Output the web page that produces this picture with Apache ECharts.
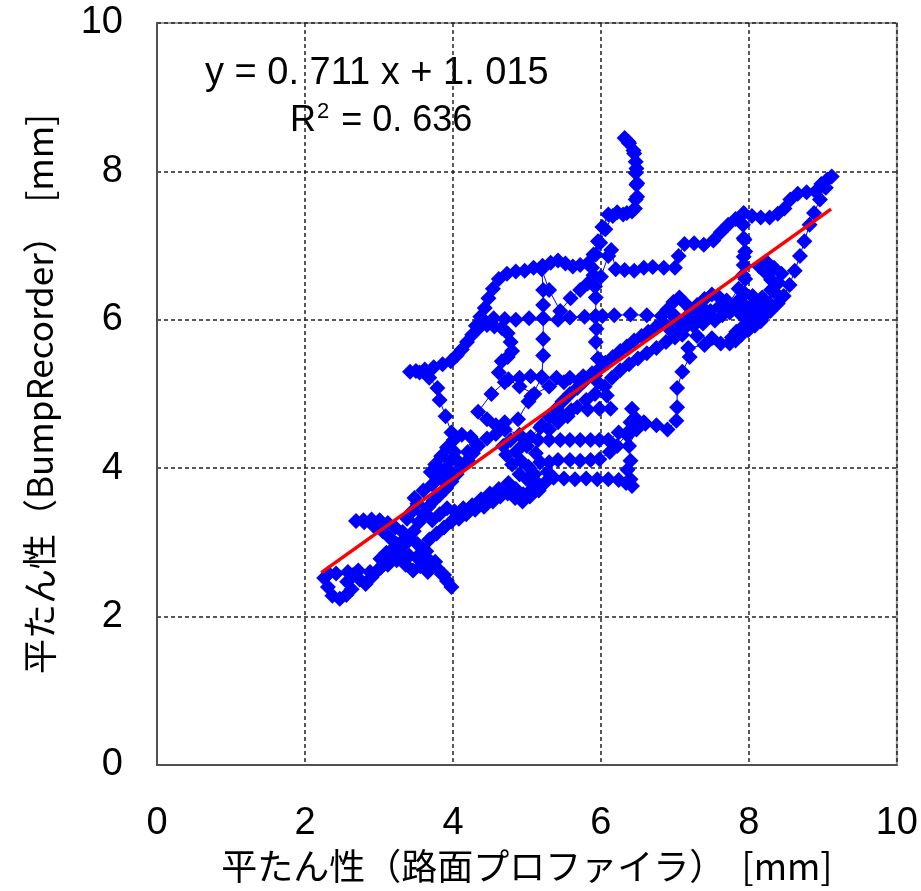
<!DOCTYPE html>
<html><head><meta charset="utf-8">
<script src="https://cdn.jsdelivr.net/npm/echarts@6/dist/echarts.min.js"></script>
<style>html,body{margin:0;padding:0;background:#fff}#c{width:921px;height:891px}</style>
</head><body><div id="c"></div>
<script>
// Trajectory of (profiler flatness, BumpRecorder flatness) in mm, in drawing order
const passLowerBlob = [[5.24,3.80],[5.16,3.70],[5.04,3.62],[4.94,3.55],[4.84,3.60],[4.74,3.66],[4.64,3.62],[4.54,3.55],[4.42,3.48],[4.30,3.44],[4.18,3.38],[4.08,3.32],[3.98,3.28],[3.88,3.20],[3.78,3.12],[3.68,3.04],[3.58,2.92],[3.66,2.60],[3.56,2.68],[3.46,2.62],[3.36,2.70],[3.24,2.76],[3.12,2.70],[3.02,2.78],[3.10,2.86],[3.20,2.92],[3.30,3.00],[3.18,2.90],[3.02,2.66],[2.88,2.60],[2.72,2.62],[2.58,2.60],[2.42,2.58],[2.32,2.58]];
const passLowerLeft = [[2.26,2.52],[2.31,2.40],[2.37,2.28],[2.47,2.24],[2.56,2.29],[2.63,2.37],[2.57,2.47],[2.65,2.56],[2.74,2.50],[2.82,2.44],[2.90,2.53],[2.98,2.62],[3.06,2.70],[3.13,2.78],[3.21,2.85],[3.31,2.84],[3.41,2.82],[3.51,2.80],[3.61,2.79],[3.70,2.74],[3.78,2.66],[3.85,2.57],[3.92,2.48],[3.98,2.40],[3.88,2.56],[3.76,2.74],[3.64,2.88],[3.52,2.98],[3.42,3.06],[3.32,3.14],[3.22,3.20],[3.12,3.26],[3.01,3.30],[2.90,3.31],[2.79,3.30],[2.69,3.29],[2.80,3.27],[2.93,3.22],[3.05,3.15],[3.15,3.06],[3.24,2.98],[3.33,2.95],[3.40,3.04],[3.47,3.15],[3.54,3.27],[3.60,3.38],[3.67,3.48],[3.74,3.56],[3.82,3.64],[3.90,3.72],[3.98,3.82],[4.05,3.92],[4.12,4.02],[4.20,4.10],[4.27,4.20],[4.32,4.32]];
const passUpperLeft = [[4.24,4.42],[4.12,4.45],[4.01,4.38],[3.92,4.28],[3.84,4.16],[3.76,4.05],[3.70,3.95],[3.78,3.88],[3.88,3.98],[3.96,4.10],[4.02,4.22],[3.98,4.48],[3.90,4.70],[3.82,4.92],[3.79,5.08],[3.68,5.22],[3.55,5.29],[3.42,5.30],[3.50,5.31],[3.62,5.33],[3.74,5.36],[3.86,5.40],[3.97,5.44],[4.05,5.52],[4.12,5.60],[4.19,5.70],[4.26,5.80],[4.31,5.92],[4.37,6.04],[4.43,6.16],[4.48,6.29],[4.54,6.42],[4.62,6.55],[4.73,6.62],[4.85,6.65],[4.97,6.66],[5.09,6.70],[5.21,6.73],[5.32,6.77],[5.42,6.80],[5.52,6.76],[5.62,6.72],[5.72,6.74],[5.82,6.76],[5.90,6.88],[5.96,7.06],[6.02,7.25],[6.10,7.42],[6.22,7.45],[6.35,7.44],[6.46,7.50],[6.49,7.66],[6.48,7.82],[6.47,7.98],[6.47,8.13],[6.44,8.28],[6.38,8.38],[6.32,8.45],[6.37,8.40],[6.45,8.24],[6.48,8.04],[6.49,7.84],[6.47,7.62],[6.42,7.46],[6.30,7.42],[6.16,7.40],[6.06,7.22],[5.99,7.04],[5.93,6.88],[5.88,6.70],[5.92,6.45],[6.00,6.58],[6.10,6.86],[6.14,6.94],[6.20,6.68]];
const passUpperRight = [[6.32,6.67],[6.45,6.66],[6.58,6.70],[6.70,6.71],[6.85,6.70],[7.00,6.70],[7.05,6.86],[7.13,7.02],[7.26,7.03],[7.39,7.01],[7.52,7.07],[7.62,7.18],[7.72,7.28],[7.82,7.36],[7.93,7.44],[8.04,7.40],[8.16,7.38],[8.28,7.38],[8.39,7.43],[8.48,7.50],[8.56,7.62],[8.66,7.70],[8.78,7.72],[8.90,7.73],[8.98,7.83],[9.06,7.89],[9.12,7.93],[9.04,7.78],[8.96,7.62],[8.88,7.44],[8.82,7.28],[8.75,7.06],[8.69,6.86],[8.62,6.66],[8.55,6.47],[8.47,6.32],[8.39,6.22],[8.29,6.12]];
const passRightCluster = [[8.20,6.05],[8.10,6.00],[8.00,5.94],[7.91,5.90],[7.83,5.84],[7.77,5.76],[7.74,5.68],[7.82,5.72],[7.90,5.80],[7.99,5.86],[8.08,5.92],[8.16,5.98],[8.22,6.08],[8.28,6.22],[8.34,6.38],[8.30,6.54],[8.22,6.64],[8.14,6.72],[8.24,6.78],[8.34,6.70],[8.44,6.62],[8.40,6.50],[8.30,6.40],[8.18,6.30],[8.06,6.22],[7.96,6.18],[7.94,6.36],[7.95,6.55],[7.93,6.74],[7.95,6.92],[7.93,7.10],[7.92,7.28],[7.94,7.08],[7.93,6.85],[7.92,6.60],[7.90,6.30],[7.84,6.15],[7.74,6.10],[7.64,6.06],[7.54,5.99],[7.45,6.04],[7.36,6.12],[7.28,6.06],[7.18,6.01],[7.10,5.93],[7.03,5.98],[6.97,6.06],[6.90,6.14],[6.98,6.24],[7.06,6.30],[7.14,6.22],[7.22,6.14],[7.30,6.20],[7.40,6.28],[7.50,6.34],[7.60,6.30],[7.70,6.26],[7.80,6.20],[7.88,6.08],[7.98,6.02],[8.08,6.10],[8.16,6.18],[8.05,6.32],[7.86,6.42],[7.70,6.18],[7.60,6.18],[7.48,6.12],[7.40,6.14],[7.30,6.00],[7.20,6.08],[7.00,6.05]];
const passMiddleRow = [[6.82,6.05],[6.62,6.06],[6.40,6.07],[6.18,6.06],[6.02,6.05],[5.92,6.04],[5.78,6.04],[5.58,6.03],[5.42,6.00],[5.22,6.02],[5.03,6.02],[4.85,6.00],[4.70,6.01],[4.55,6.02],[4.43,5.98],[4.36,5.90],[4.46,5.93],[4.56,5.91],[4.66,5.89],[4.74,5.82],[4.78,5.70],[4.80,5.58],[4.74,5.50],[4.66,5.44],[4.62,5.29],[4.70,5.16],[4.52,5.00],[4.34,4.76],[4.46,4.66],[4.58,4.58],[4.70,4.62],[4.88,4.66]];
const passVertical = [[5.02,4.90],[5.06,4.97],[5.20,5.22],[5.22,5.52],[5.22,5.74],[5.22,6.02],[5.22,6.20],[5.22,6.40],[5.20,6.68],[5.30,6.40],[5.45,6.12],[5.59,6.29],[5.72,6.40],[5.82,6.49],[5.90,6.60],[5.93,6.30],[5.93,6.05],[5.94,5.88],[5.93,5.70],[5.96,5.48],[5.92,5.25],[5.76,5.24],[5.58,5.22],[5.40,5.22],[5.20,5.23],[5.05,5.24],[4.90,5.22],[4.75,5.20],[4.90,5.10],[5.10,5.00],[5.30,5.10],[5.50,5.16],[5.70,5.18],[5.96,5.16],[6.08,4.98],[6.13,4.80],[5.98,4.80],[5.82,4.79],[5.60,4.78],[5.42,4.76],[5.30,4.70],[5.18,4.55],[5.05,4.42]];
const passCentre = [[4.95,4.32],[4.85,4.22],[4.92,4.10],[5.02,4.02],[5.10,3.92],[5.00,3.85],[4.90,3.92],[4.80,4.05],[4.72,4.18],[4.68,4.30],[4.78,4.38],[4.90,4.45],[5.00,4.30],[5.12,4.20],[5.18,4.08],[5.14,3.80],[5.05,3.70],[4.95,3.65],[4.85,3.72],[4.75,3.80],[4.62,3.72],[4.50,3.66],[4.38,3.58],[4.26,3.50],[4.14,3.46],[4.02,3.42],[3.92,3.46],[3.82,3.38],[3.72,3.30],[3.62,3.40],[3.52,3.52],[3.45,3.42],[3.38,3.32],[3.48,3.60],[3.60,3.70],[3.72,3.78],[3.84,3.86],[3.96,3.95],[4.08,4.08],[4.20,4.22],[4.34,4.30],[4.46,4.40],[4.58,4.46],[4.70,4.52]];
const passRows = [[5.15,4.38],[5.30,4.38],[5.45,4.38],[5.58,4.38],[5.72,4.38],[5.86,4.38],[5.98,4.38],[6.10,4.38],[6.24,4.48],[6.36,4.44],[6.40,4.62],[6.42,4.80],[6.46,4.68],[6.58,4.62],[6.48,4.52],[6.38,4.30],[6.40,4.10],[6.36,3.98],[6.40,3.85],[6.42,3.76],[6.34,3.80],[6.24,3.84],[6.10,3.85],[5.95,3.85],[5.80,3.86],[5.65,3.85],[5.50,3.86],[5.36,3.87],[5.28,3.95],[5.30,4.08],[5.42,4.11],[5.58,4.11],[5.72,4.10],[5.86,4.11],[5.98,4.12],[6.12,4.22],[6.22,4.30],[6.40,4.52],[6.60,4.60],[6.75,4.58],[6.90,4.52],[7.02,4.64],[7.03,4.82],[7.03,5.08],[7.10,5.30],[7.20,5.50],[7.18,5.62],[7.40,5.66],[7.62,5.68],[7.74,5.69]];
const passBand = [[7.50,5.75],[7.30,5.78],[7.10,5.80],[6.95,5.85],[6.84,5.96],[6.74,5.90],[6.64,5.84],[6.55,5.78],[6.45,5.72],[6.35,5.64],[6.26,5.58],[6.16,5.50],[6.06,5.42],[5.98,5.34],[5.88,5.28],[5.78,5.18],[5.68,5.08],[5.58,5.00],[5.48,4.90],[5.40,4.80],[5.30,4.70],[5.20,4.58],[5.30,4.52],[5.42,4.62],[5.55,4.70],[5.68,4.82],[5.80,4.92],[5.92,5.00],[6.05,5.10],[6.15,5.22],[6.26,5.32],[6.38,5.40],[6.50,5.48],[6.62,5.55],[6.75,5.62],[6.88,5.70],[7.00,5.76],[7.12,5.88],[7.25,5.92],[7.38,5.95]];

const slope = 0.711, intercept = 1.015, rSquared = 0.636;
const trendXRange = [2.22, 9.11];
const xTicks = [0, 2, 4, 6, 8, 10];
const yTicks = [0, 2, 4, 6, 8, 10];
const xTitle = '平たん性（路面プロファイラ）  [mm]';
const yTitle = '平たん性（BumpRecorder）  [mm]';

const trajectory = [].concat(passLowerBlob, passLowerLeft, passUpperLeft, passUpperRight, passRightCluster, passMiddleRow, passVertical, passCentre, passRows, passBand);
const trend = trendXRange.map(x => [x, slope * x + intercept]);

const tickFont = '"Liberation Sans","DejaVu Sans",sans-serif';
const cjkFont = '"Noto Sans CJK JP","Noto Sans",sans-serif';

const chart = echarts.init(document.getElementById('c'), null, {renderer: 'canvas'});
chart.setOption({
  animation: false,
  backgroundColor: '#fff',
  grid: {left: 157, top: 23, right: 20, bottom: 126, show: true, borderColor: '#a0a0a0', borderWidth: 2, backgroundColor: 'transparent'},
  xAxis: {
    type: 'value', min: xTicks[0], max: xTicks[xTicks.length - 1], interval: 2,
    axisLine: {show: true, lineStyle: {color: '#505050', width: 2}},
    axisTick: {show: false},
    axisLabel: {margin: 40, fontFamily: tickFont, fontSize: 38, color: '#000'},
    splitLine: {show: true, lineStyle: {color: '#222', width: 1.5, type: [4, 3]}},
    name: xTitle, nameLocation: 'middle', nameGap: 78,
    nameTextStyle: {fontFamily: cjkFont, fontSize: 36, color: '#000'}
  },
  yAxis: {
    type: 'value', min: yTicks[0], max: yTicks[yTicks.length - 1], interval: 2,
    axisLine: {show: true, lineStyle: {color: '#505050', width: 2}},
    axisTick: {show: false},
    axisLabel: {margin: 34, fontFamily: tickFont, fontSize: 38, color: '#000'},
    splitLine: {show: true, lineStyle: {color: '#222', width: 1.5, type: [4, 3]}},
    name: yTitle, nameLocation: 'middle', nameGap: 100, nameRotate: 90,
    nameTextStyle: {fontFamily: cjkFont, fontSize: 35, color: '#000'}
  },
  graphic: [
    {type: 'text', left: 205, top: 55, style: {text: 'y = 0. 711 x + 1. 015', font: '38px ' + tickFont, fill: '#000'}},
    {type: 'text', left: 290, top: 101, style: {
      text: '{a|R}{s|2}{a| = 0. 636}', fill: '#000',
      rich: {a: {fontFamily: tickFont, fontSize: 36, verticalAlign: 'bottom'}, s: {fontFamily: tickFont, fontSize: 22, verticalAlign: 'top', padding: [0, 2, 16, 1]}}
    }}
  ],
  series: [
    {type: 'line', data: trajectory, showAllSymbol: true, symbol: 'diamond', symbolSize: 16,
     itemStyle: {color: '#0000FF'}, lineStyle: {color: '#0000FF', width: 1}, z: 2},
    {type: 'line', data: trend, showSymbol: false, symbol: 'none', lineStyle: {color: '#FF0000', width: 3.5}, z: 3}
  ]
});
</script></body></html>
